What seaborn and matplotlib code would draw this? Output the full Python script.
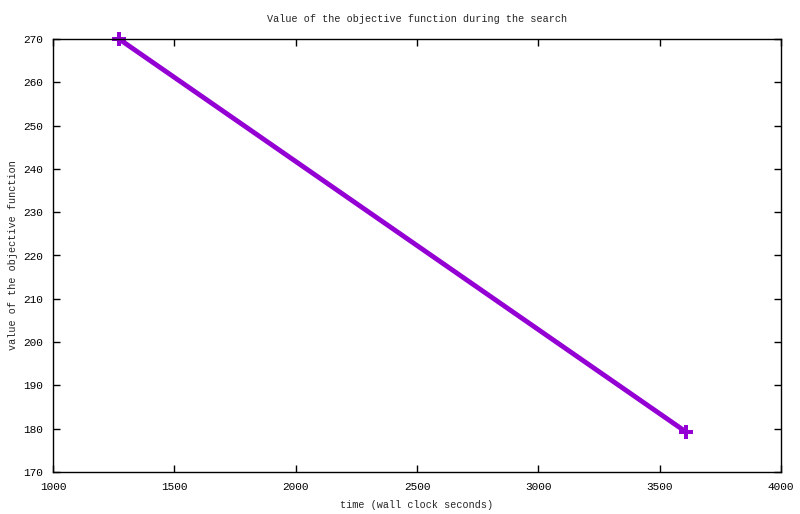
import pandas as pd
import seaborn as sns
import matplotlib
matplotlib.use('Agg')
import matplotlib.pyplot as plt

# objective value over time
time_s = [1272, 3610]
objective = [270.0, 179.2]

data = pd.DataFrame({'time': time_s, 'objective': objective})

sns.set_style('ticks')
plt.rcParams['font.family'] = ['Liberation Mono', 'DejaVu Sans Mono']

fig = plt.figure(figsize=(8, 5.14), dpi=100)
ax = fig.add_axes([53 / 800, 1 - 472 / 514, 728 / 800, 433 / 514])

sns.lineplot(data=data, x='time', y='objective', ax=ax, color='#9400d3',
             linewidth=3.5, marker='P', markersize=10, markeredgewidth=0)
for ln in ax.lines:
    ln.set_clip_on(False)

ax.set_xlim(1000, 4000)
ax.set_ylim(170, 270)
ax.set_xticks(range(1000, 4001, 500))
ax.set_yticks(range(170, 271, 10))
ax.tick_params(direction='in', top=True, right=True, length=5, width=1,
               labelsize=8, pad=7, colors='black')
for s in ax.spines.values():
    s.set_color('black')
    s.set_linewidth(1)

ax.set_xlabel('time (wall clock seconds)', fontsize=7.3, labelpad=6)
ax.set_ylabel('value of the objective function', fontsize=7.3, labelpad=4)
ax.set_title('Value of the objective function during the search', fontsize=7.3, pad=12)

fig.savefig('out.png', dpi=100)
